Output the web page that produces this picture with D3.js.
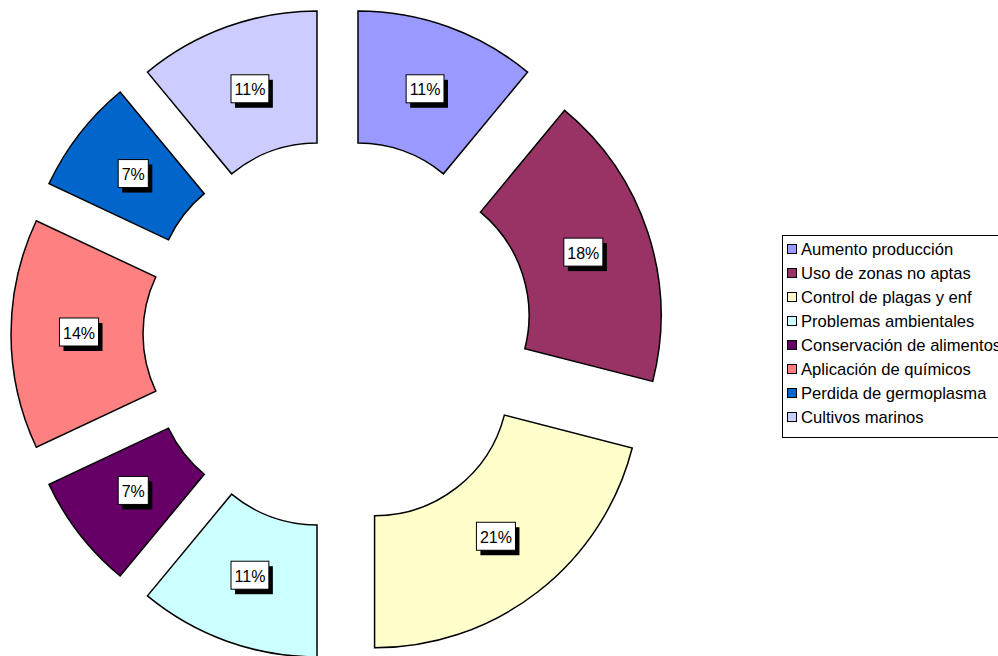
<!DOCTYPE html>
<html>
<head>
<meta charset="utf-8">
<script src="https://cdn.jsdelivr.net/npm/d3@7"></script>
<style>
  html, body { margin: 0; padding: 0; background: #fff; }
  svg { display: block; font-family: "Liberation Sans", Arial, sans-serif; }
</style>
</head>
<body>
<svg id="chart" width="998" height="656"></svg>
<script>
const categories = [
  "Aumento producción",
  "Uso de zonas no aptas",
  "Control de plagas y enf",
  "Problemas ambientales",
  "Conservación de alimentos",
  "Aplicación de químicos",
  "Perdida de germoplasma",
  "Cultivos marinos"
];
const values = [11, 18, 21, 11, 7, 14, 7, 11];
const colors = ["#9999FF", "#993366", "#FFFFCC", "#CCFFFF", "#660066", "#FF8080", "#0066CC", "#CCCCFF"];

const svg = d3.select("#chart");
const cx = 337.5, cy = 334, R = 266, r = 134, explode = 60.5;

const total = d3.sum(values);
const pie = d3.pie().sort(null).value(d => d)(values);
const arc = d3.arc().innerRadius(r).outerRadius(R);

const g = svg.append("g").attr("transform", `translate(${cx},${cy})`);

const slices = g.selectAll("g.slice").data(pie).enter().append("g")
  .attr("class", "slice")
  .attr("transform", d => {
    const a = (d.startAngle + d.endAngle) / 2;
    return `translate(${explode * Math.sin(a)},${-explode * Math.cos(a)})`;
  });

slices.append("path")
  .attr("d", arc)
  .attr("fill", (d, i) => colors[i])
  .attr("stroke", "#000")
  .attr("stroke-width", 1.5)
  .attr("stroke-linejoin", "miter");

// labels
const labelR = (R + r) / 2 - 2;
slices.each(function(d) {
  const a = (d.startAngle + d.endAngle) / 2;
  const x = labelR * Math.sin(a), y = -labelR * Math.cos(a) - 2;
  const sel = d3.select(this);
  const txt = Math.round(d.value / total * 100) + "%";
  const t = sel.append("text")
    .attr("x", x).attr("y", y + 1)
    .attr("text-anchor", "middle")
    .attr("dominant-baseline", "central")
    .attr("font-size", 16)
    .attr("fill", "#000")
    .text(txt);
  const bb = t.node().getBBox();
  const w = bb.width + 7, h = 28;
  sel.insert("rect", "text")
    .attr("x", x - w / 2 + 4).attr("y", y - h / 2 + 5)
    .attr("width", w).attr("height", h)
    .attr("fill", "#000");
  sel.insert("rect", "text")
    .attr("x", x - w / 2).attr("y", y - h / 2)
    .attr("width", w).attr("height", h)
    .attr("fill", "#fff")
    .attr("stroke", "#000")
    .attr("stroke-width", 1);
});

// legend
const lx = 782, ly = 235;
const legend = svg.append("g");
legend.append("rect")
  .attr("x", lx + 0.5).attr("y", ly + 0.5)
  .attr("width", 230).attr("height", 202)
  .attr("fill", "#fff").attr("stroke", "#000").attr("stroke-width", 1);

const items = legend.selectAll("g.item").data(categories).enter().append("g")
  .attr("class", "item")
  .attr("transform", (d, i) => `translate(${lx}, ${ly + 14 + i * 24})`);
items.append("rect")
  .attr("x", 5.5).attr("y", -4.5)
  .attr("width", 9).attr("height", 9)
  .attr("fill", (d, i) => colors[i])
  .attr("stroke", "#000").attr("stroke-width", 1);
items.append("text")
  .attr("x", 19).attr("y", 0)
  .attr("dominant-baseline", "central")
  .attr("font-size", 16.6)
  .attr("fill", "#000")
  .text(d => d);
</script>
</body>
</html>
